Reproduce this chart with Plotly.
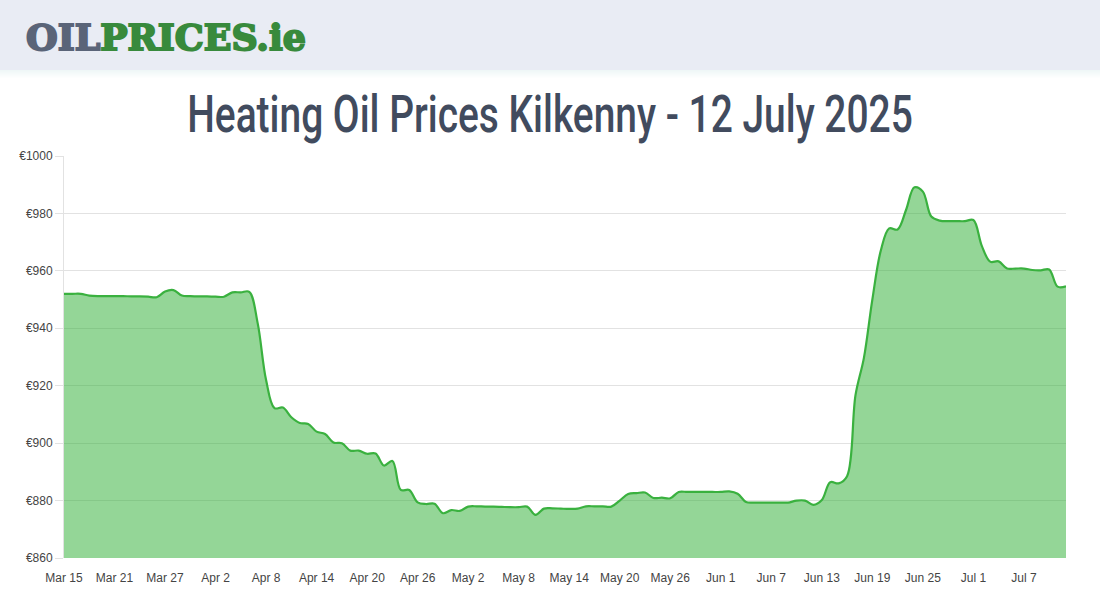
# %%
import pandas as pd
import plotly.graph_objects as go

# %%
# daily price, Mar 15 to Jul 12
start_date = '2025-03-15'
prices = [
    952.0, 952.0, 952.0, 951.4, 951.2, 951.2, 951.2, 951.2, 951.1, 951.1,
    951.0, 950.8, 952.8, 953.3, 951.4, 951.2, 951.1, 951.1, 951.0, 951.0,
    952.5, 952.5, 952.7, 941.8, 922.0, 912.2, 912.4, 909.0, 907.0, 906.7,
    904.0, 903.2, 900.2, 900.0, 897.4, 897.4, 896.3, 896.4, 892.2, 893.8,
    883.7, 883.7, 879.4, 878.8, 878.9, 875.6, 876.7, 876.4, 877.9, 878.0,
    877.9, 877.9, 877.8, 877.7, 877.7, 877.9, 875.0, 877.2, 877.3, 877.2,
    877.1, 877.2, 878.0, 878.0, 878.0, 877.9, 880.0, 882.3, 882.6, 882.8,
    880.9, 881.0, 880.8, 883.0, 883.0, 883.0, 883.0, 883.0, 883.0, 883.2,
    882.4, 879.5, 879.3, 879.3, 879.3, 879.3, 879.3, 880.0, 880.0, 878.5,
    880.2, 886.4, 886.0, 888.5, 916.7, 929.7, 950.0, 967.0, 974.8, 974.4,
    981.2, 989.1, 987.6, 978.9, 977.5, 977.3, 977.3, 977.3, 977.7, 968.7,
    963.2, 963.3, 960.8, 960.8, 960.8, 960.3, 960.2, 960.5, 954.5, 954.6,
]
dates = pd.date_range(start_date, periods=len(prices), freq='D')

title_text = 'Heating Oil Prices Kilkenny - 12 July 2025'
logo_text = ('<span style="fill:#5a6478;stroke:#5a6478;stroke-width:2px">OIL</span>'
             '<span style="fill:#388a3c;stroke:#388a3c;stroke-width:2px">PRICES.ie</span>')

# plot area in page pixels
left, right, top, bottom = 64, 1066, 156, 558


def px_x(px):
    return (px - left) / (right - left)


def px_y(px):
    return (bottom - px) / (bottom - top)


# %%
fig = go.Figure()
fig.add_trace(go.Scatter(
    x=dates, y=prices, mode='lines',
    line=dict(color='#3ab13f', width=2.2, shape='spline', smoothing=1.0),
    fill='tozeroy', fillcolor='rgba(52,178,58,0.53)',
    hoverinfo='skip', showlegend=False,
))

# header band and its soft shadow
for i in range(8):
    fig.add_shape(type='rect', xref='paper', yref='paper', layer='below',
                  x0=px_x(0), x1=px_x(1100), y0=px_y(70), y1=px_y(71 + i),
                  line_width=0, fillcolor='rgba(60,70,100,0.006)')
fig.add_shape(type='rect', xref='paper', yref='paper', layer='below',
              x0=px_x(0), x1=px_x(1100), y0=px_y(0), y1=px_y(70),
              line_width=0, fillcolor='#e9ecf4')

fig.add_annotation(text=logo_text, xref='paper', yref='paper', showarrow=False,
                   x=px_x(24), y=px_y(37), xanchor='left', yanchor='middle',
                   font=dict(family='DejaVu Serif', size=36, weight=700))

fig.update_layout(
    width=1100, height=600, autosize=False,
    margin=dict(l=left, r=1100 - right, t=top, b=600 - bottom, autoexpand=False),
    paper_bgcolor='white', plot_bgcolor='white',
    title=dict(text=title_text, x=0.5, xref='container', xanchor='center',
               y=1 - 114 / 600, yref='container', yanchor='middle',
               font=dict(family='Roboto', size=52, color='#414b5e', weight=500)),
    font=dict(family='Liberation Sans', size=12, color='#444444'),
    xaxis=dict(type='date', range=[dates[0], dates[-1]], tick0=start_date,
               dtick=6 * 86400000, tickformat='%b %-d', showgrid=False,
               showline=False, zeroline=False, ticks='outside', ticklen=9,
               tickcolor='rgba(0,0,0,0)'),
    yaxis=dict(range=[860, 1000], dtick=20, tickprefix='€', gridcolor='#e2e2e2',
               gridwidth=1, zeroline=False, showline=True, linecolor='#e2e2e2',
               ticks='outside', ticklen=8, tickcolor='#e2e2e2'),
)

# the original title face is a condensed one, so squeeze the installed font to the same width
post_script = """
document.body.style.margin = '0';
function squeeze(el, width, centre) {
    var box = el.getBBox();
    var cx = centre ? box.x + box.width / 2 : box.x;
    el.setAttribute('transform', 'translate(' + cx + ',0) scale(' + width / box.width + ',1) translate(' + (-cx) + ',0)');
}
squeeze(document.querySelector('.gtitle'), 726, true);
squeeze(document.querySelector('.annotation-text'), 280, false);
"""

fig.write_html('out.html', post_script=post_script, config={'displayModeBar': False})
